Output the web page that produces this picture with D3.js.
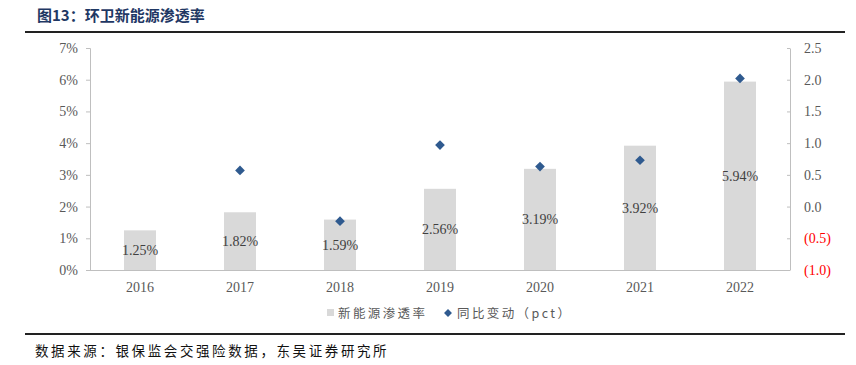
<!DOCTYPE html>
<html>
<head>
<meta charset="utf-8">
<script src="https://cdn.jsdelivr.net/npm/d3@7"></script>
<style>
  body { margin: 0; background: #fff; }
  svg { display: block; }
</style>
</head>
<body>
<svg id="chart" width="856" height="365"></svg>
<script>
// chart data
var years = ["2016", "2017", "2018", "2019", "2020", "2021", "2022"];
var penetration = [1.25, 1.82, 1.59, 2.56, 3.19, 3.92, 5.94];     // %
var yoyChange = [null, 0.57, -0.23, 0.97, 0.63, 0.73, 2.02];     // pct
var leftTicks = [0, 1, 2, 3, 4, 5, 6, 7];
var rightTicks = [-1.0, -0.5, 0, 0.5, 1.0, 1.5, 2.0, 2.5];

var svg = d3.select('#chart');
var serif = '"Liberation Serif", "Times New Roman", serif';
var cjk = '"Noto Sans CJK SC", sans-serif';

var x = d3.scaleBand().domain(years).range([90, 790]).paddingInner(0.68).paddingOuter(0.34);
var yL = d3.scaleLinear().domain([0, 7]).range([270, 48]);
var yR = d3.scaleLinear().domain([-1, 2.5]).range([270, 48]);

// title + rules
svg.append('text')
   .attr('x', 37).attr('y', 21)
   .style('font-family', cjk).style('font-weight', 'bold')
   .style('font-size', '15px').style('fill', '#1f3864')
   .text('图13：环卫新能源渗透率');
svg.append('line').attr('x1', 25).attr('x2', 845).attr('y1', 32).attr('y2', 32)
   .style('stroke', '#222').style('stroke-width', 2);
svg.append('line').attr('x1', 25).attr('x2', 845).attr('y1', 334).attr('y2', 334)
   .style('stroke', '#222').style('stroke-width', 2);
svg.append('text')
   .attr('x', 35).attr('y', 356)
   .style('font-family', cjk).style('font-size', '13.5px').style('fill', '#111')
   .style('letter-spacing', '2.6px')
   .text('数据来源：银保监会交强险数据，东吴证券研究所');

// left axis
var gL = svg.append('g').attr('transform', 'translate(90,0)')
   .call(d3.axisLeft(yL).tickValues(leftTicks).tickSize(4).tickPadding(8)
     .tickFormat(function(d) { return d + '%'; }));

// right axis
var fmtR = function(d) {
  return d < 0 ? '(' + Math.abs(d).toFixed(1) + ')' : d.toFixed(1);
};
var gR = svg.append('g').attr('transform', 'translate(790,0)')
   .call(d3.axisRight(yR).tickValues(rightTicks).tickSize(0).tickPadding(14)
     .tickFormat(fmtR));
gR.selectAll('.tick').append('line').attr('x1', -3).attr('x2', 0).style('stroke', '#bfbfbf');
gR.selectAll('.tick text').style('fill', function(d) { return d < 0 ? '#ff0000' : '#595959'; });

// x axis
var gX = svg.append('g').attr('transform', 'translate(0,270)')
   .call(d3.axisBottom(x).tickSize(0).tickPadding(12));

[gL, gR, gX].forEach(function(g) {
  g.select('.domain').style('stroke', '#bfbfbf');
  g.selectAll('.tick line').style('stroke', '#bfbfbf');
  g.selectAll('text').style('font-family', serif).style('font-size', '14px');
});
gL.selectAll('.tick text').style('fill', '#595959');
gX.selectAll('.tick text').style('fill', '#595959');
gX.select('.domain').attr('d', 'M90,0.5H790');

// bars
svg.selectAll('rect.bar')
   .data(years)
   .enter()
   .append('rect')
   .attr('class', 'bar')
   .attr('x', function(d) { return x(d); })
   .attr('width', x.bandwidth())
   .attr('y', function(d, i) { return yL(penetration[i]); })
   .attr('height', function(d, i) { return yL(0) - yL(penetration[i]); })
   .style('fill', '#d9d9d9');

// bar labels
svg.selectAll('text.lbl')
   .data(years)
   .enter()
   .append('text')
   .attr('class', 'lbl')
   .attr('x', function(d) { return x(d) + x.bandwidth() / 2; })
   .attr('y', function(d, i) { return (yL(penetration[i]) + yL(0)) / 2 + 5; })
   .attr('text-anchor', 'middle')
   .style('font-family', serif).style('font-size', '14px').style('fill', '#404040')
   .text(function(d, i) { return penetration[i].toFixed(2) + '%'; });

// diamonds
var diamond = d3.symbol().type(d3.symbolDiamond2).size(60);
svg.selectAll('path.pt')
   .data(years.filter(function(d, i) { return yoyChange[i] !== null; }))
   .enter()
   .append('path')
   .attr('class', 'pt')
   .attr('d', diamond)
   .attr('transform', function(d) {
     var i = years.indexOf(d);
     return 'translate(' + (x(d) + x.bandwidth() / 2) + ',' + yR(yoyChange[i]) + ')';
   })
   .style('fill', '#2f5a8f');

// legend
var lg = svg.append('g').style('font-family', cjk).style('font-size', '12.5px')
  .style('fill', '#595959').style('letter-spacing', '2.4px');
lg.append('rect').attr('x', 327).attr('y', 309).attr('width', 7).attr('height', 7).style('fill', '#d9d9d9');
lg.append('text').attr('x', 338).attr('y', 317.5).text('新能源渗透率');
lg.append('path').attr('d', d3.symbol().type(d3.symbolDiamond2).size(40))
  .attr('transform', 'translate(448,313)').style('fill', '#2f5a8f');
lg.append('text').attr('x', 457).attr('y', 317.5).text('同比变动（pct）');
</script>
</body>
</html>
